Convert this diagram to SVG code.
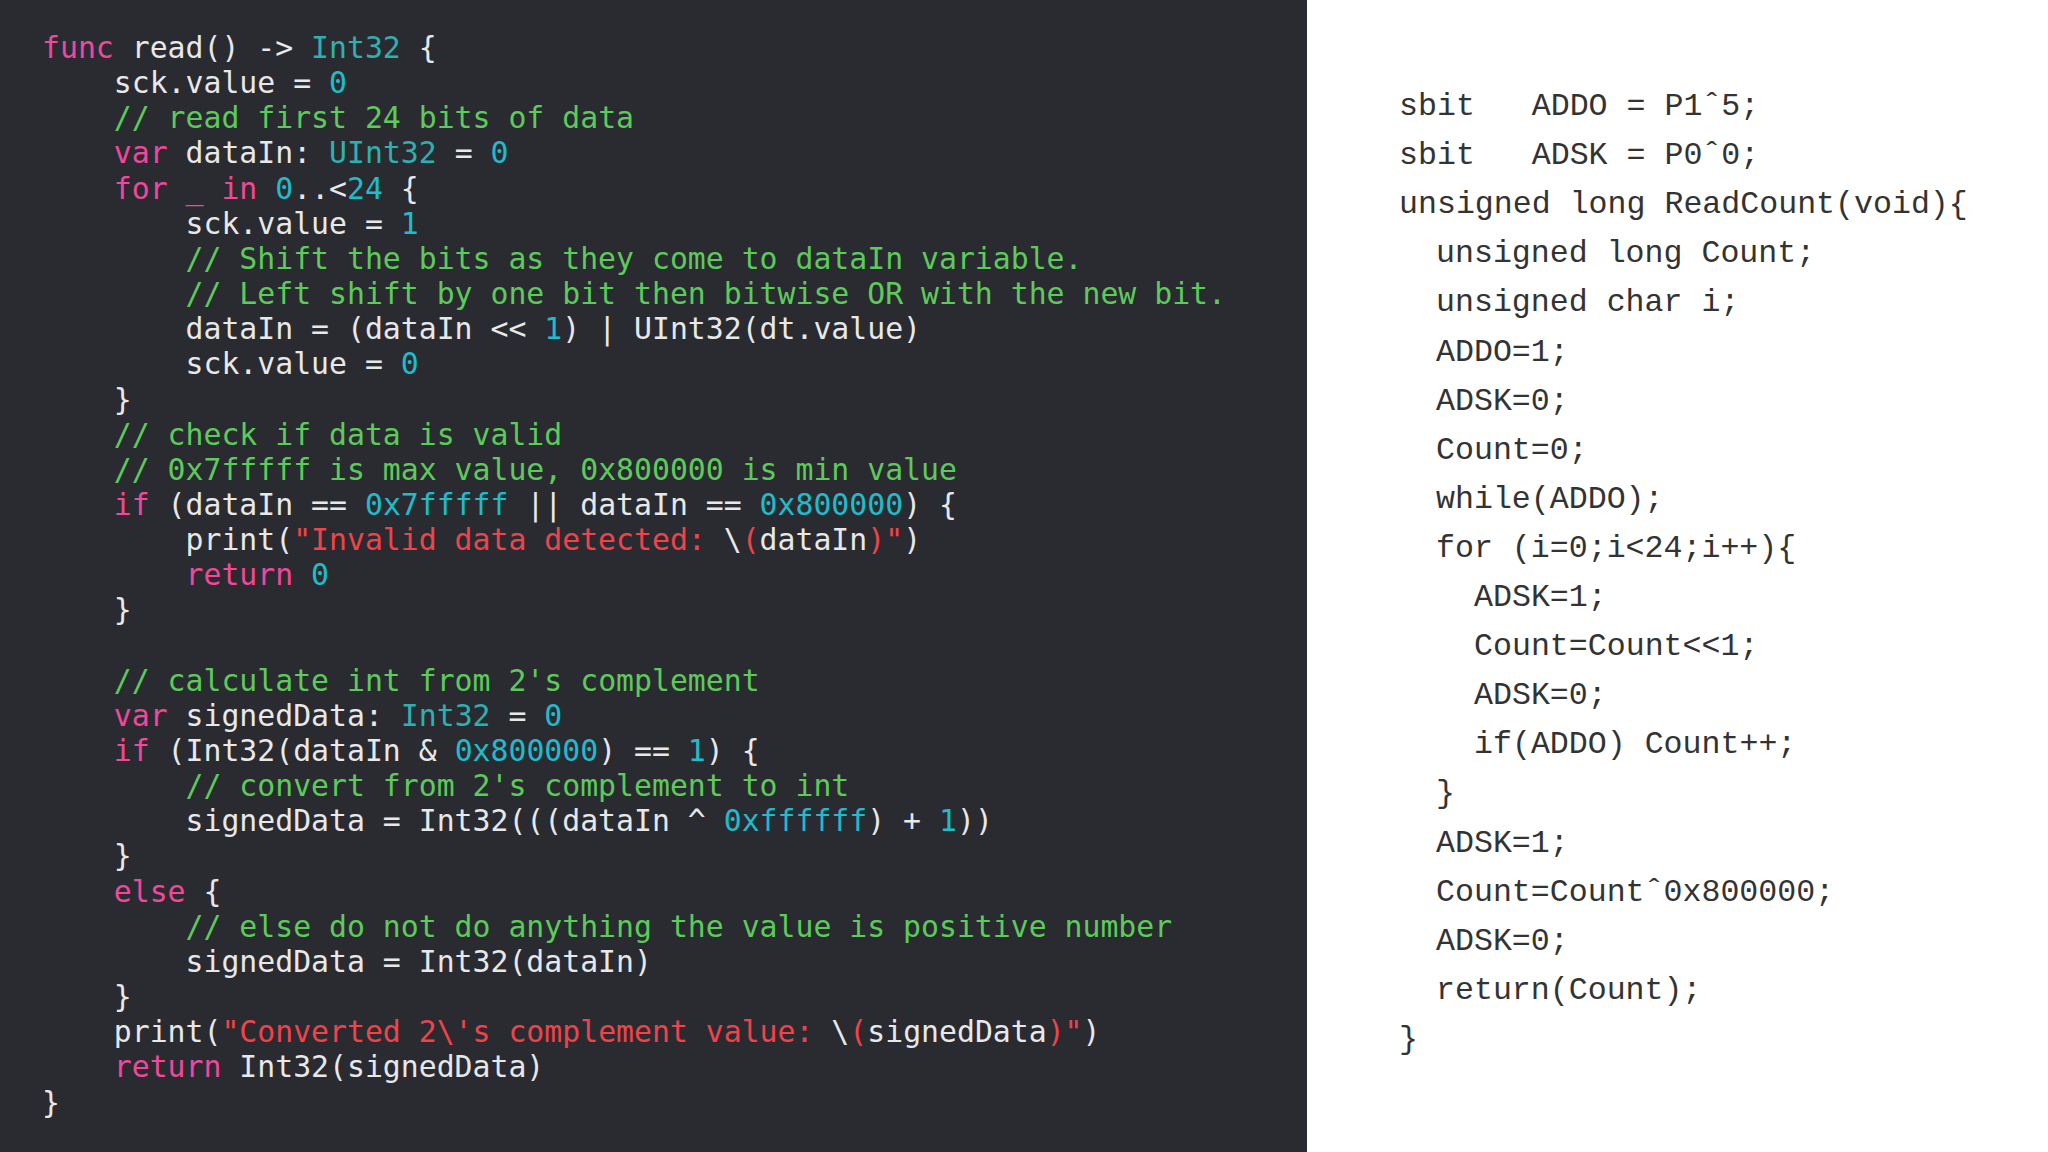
<svg xmlns="http://www.w3.org/2000/svg" width="2048" height="1152" viewBox="0 0 2048 1152">
<style>
.c{font-family:"DejaVu Sans Mono",monospace;font-size:29.8px;fill:#e8e8e8;white-space:pre}
.k{fill:#f0489b}.t{fill:#2fb0b0}.n{fill:#1fbccc}.g{fill:#5ccb5a}.s{fill:#f0434a}
.r{font-family:"Liberation Mono",monospace;font-size:31.6px;fill:#333;white-space:pre}
</style>
<rect x="0" y="0" width="1307" height="1152" fill="#2a2b31"/>
<rect x="1307" y="0" width="741" height="1152" fill="#ffffff"/>
<g id="swift" xml:space="preserve">
<text class="c" x="42" y="58"><tspan class="k">func</tspan> read() -&gt; <tspan class="t">Int32</tspan> {</text>
<text class="c" x="42" y="93.15">    sck.value = <tspan class="n">0</tspan></text>
<text class="c" x="42" y="128.3">    <tspan class="g">// read first 24 bits of data</tspan></text>
<text class="c" x="42" y="163.45">    <tspan class="k">var</tspan> dataIn: <tspan class="t">UInt32</tspan> = <tspan class="n">0</tspan></text>
<text class="c" x="42" y="198.6">    <tspan class="k">for _ in</tspan> <tspan class="n">0</tspan>..&lt;<tspan class="n">24</tspan> {</text>
<text class="c" x="42" y="233.75">        sck.value = <tspan class="n">1</tspan></text>
<text class="c" x="42" y="268.9">        <tspan class="g">// Shift the bits as they come to dataIn variable.</tspan></text>
<text class="c" x="42" y="304.05">        <tspan class="g">// Left shift by one bit then bitwise OR with the new bit.</tspan></text>
<text class="c" x="42" y="339.2">        dataIn = (dataIn &lt;&lt; <tspan class="n">1</tspan>) | UInt32(dt.value)</text>
<text class="c" x="42" y="374.35">        sck.value = <tspan class="n">0</tspan></text>
<text class="c" x="42" y="409.5">    }</text>
<text class="c" x="42" y="444.65">    <tspan class="g">// check if data is valid</tspan></text>
<text class="c" x="42" y="479.8">    <tspan class="g">// 0x7fffff is max value, 0x800000 is min value</tspan></text>
<text class="c" x="42" y="514.95">    <tspan class="k">if</tspan> (dataIn == <tspan class="n">0x7fffff</tspan> || dataIn == <tspan class="n">0x800000</tspan>) {</text>
<text class="c" x="42" y="550.1">        print(<tspan class="s">"Invalid data detected: </tspan>\<tspan class="s">(</tspan>dataIn<tspan class="s">)"</tspan>)</text>
<text class="c" x="42" y="585.25">        <tspan class="k">return</tspan> <tspan class="n">0</tspan></text>
<text class="c" x="42" y="620.4">    }</text>
<text class="c" x="42" y="690.7">    <tspan class="g">// calculate int from 2's complement</tspan></text>
<text class="c" x="42" y="725.85">    <tspan class="k">var</tspan> signedData: <tspan class="t">Int32</tspan> = <tspan class="n">0</tspan></text>
<text class="c" x="42" y="761">    <tspan class="k">if</tspan> (Int32(dataIn &amp; <tspan class="n">0x800000</tspan>) == <tspan class="n">1</tspan>) {</text>
<text class="c" x="42" y="796.15">        <tspan class="g">// convert from 2's complement to int</tspan></text>
<text class="c" x="42" y="831.3">        signedData = Int32(((dataIn ^ <tspan class="n">0xffffff</tspan>) + <tspan class="n">1</tspan>))</text>
<text class="c" x="42" y="866.45">    }</text>
<text class="c" x="42" y="901.6">    <tspan class="k">else</tspan> {</text>
<text class="c" x="42" y="936.75">        <tspan class="g">// else do not do anything the value is positive number</tspan></text>
<text class="c" x="42" y="971.9">        signedData = Int32(dataIn)</text>
<text class="c" x="42" y="1007.05">    }</text>
<text class="c" x="42" y="1042.2">    print(<tspan class="s">"Converted 2\'s complement value: </tspan>\<tspan class="s">(</tspan>signedData<tspan class="s">)"</tspan>)</text>
<text class="c" x="42" y="1077.35">    <tspan class="k">return</tspan> Int32(signedData)</text>
<text class="c" x="42" y="1112.5">}</text>
</g>
<g id="c51" xml:space="preserve">
<text class="r" x="1399" y="115">sbit   ADDO = P1ˆ5;</text>
<text class="r" x="1399" y="164.1">sbit   ADSK = P0ˆ0;</text>
<text class="r" x="1399" y="213.2">unsigned long ReadCount(void){</text>
<text class="r" x="1436" y="262.3">unsigned long Count;</text>
<text class="r" x="1436" y="311.4">unsigned char i;</text>
<text class="r" x="1436" y="360.5">ADDO=1;</text>
<text class="r" x="1436" y="409.6">ADSK=0;</text>
<text class="r" x="1436" y="458.7">Count=0;</text>
<text class="r" x="1436" y="507.8">while(ADDO);</text>
<text class="r" x="1436" y="556.9">for (i=0;i&lt;24;i++){</text>
<text class="r" x="1474" y="606">ADSK=1;</text>
<text class="r" x="1474" y="655.1">Count=Count&lt;&lt;1;</text>
<text class="r" x="1474" y="704.2">ADSK=0;</text>
<text class="r" x="1474" y="753.3">if(ADDO) Count++;</text>
<text class="r" x="1436" y="802.4">}</text>
<text class="r" x="1436" y="851.5">ADSK=1;</text>
<text class="r" x="1436" y="900.6">Count=Countˆ0x800000;</text>
<text class="r" x="1436" y="949.7">ADSK=0;</text>
<text class="r" x="1436" y="998.8">return(Count);</text>
<text class="r" x="1399" y="1047.9">}</text>
</g>
</svg>
